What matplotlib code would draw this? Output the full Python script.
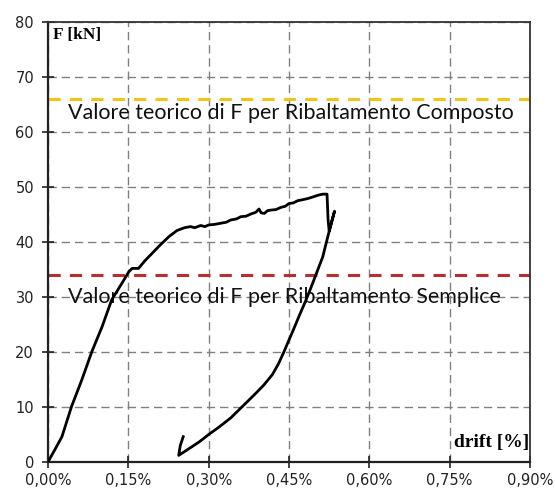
import numpy as np
import matplotlib
matplotlib.use('Agg')
import matplotlib.pyplot as plt
from matplotlib.ticker import FuncFormatter

# drift [%] and force [kN]
drift = [0.000, 0.012, 0.026, 0.044, 0.063, 0.082, 0.101, 0.119, 0.138, 0.151,
         0.157, 0.169, 0.181, 0.194, 0.210, 0.226, 0.241, 0.255, 0.266, 0.274,
         0.285, 0.293, 0.300, 0.311, 0.322, 0.333, 0.341, 0.352, 0.360, 0.370,
         0.379, 0.388, 0.394, 0.398, 0.404, 0.410, 0.416, 0.426, 0.435, 0.443,
         0.450, 0.458, 0.466, 0.476, 0.485, 0.495, 0.504, 0.513, 0.521, 0.523,
         0.525, 0.530, 0.535, 0.529, 0.5225, 0.513, 0.502, 0.493, 0.482, 0.470,
         0.458, 0.450, 0.440, 0.430, 0.419, 0.403, 0.385, 0.362, 0.341, 0.320,
         0.300, 0.283, 0.266, 0.255, 0.244, 0.247, 0.2525]
force = [0.0, 2.1, 4.6, 10.1, 14.9, 20.1, 24.6, 29.5, 32.5, 34.6,
         35.2, 35.2, 36.6, 37.9, 39.5, 41.0, 42.1, 42.6, 42.8, 42.6,
         43.0, 42.8, 43.1, 43.2, 43.4, 43.6, 44.0, 44.2, 44.6, 44.7,
         45.1, 45.4, 46.0, 45.3, 45.2, 45.7, 45.8, 45.9, 46.3, 46.5,
         47.0, 47.1, 47.5, 47.7, 47.9, 48.2, 48.5, 48.7, 48.7, 44.0,
         42.0, 43.8, 45.6, 43.4, 41.0, 37.3, 34.5, 32.2, 29.5, 26.8,
         24.0, 22.2, 19.9, 17.8, 15.9, 14.0, 12.2, 10.0, 8.0, 6.4,
         5.0, 3.7, 2.6, 1.9, 1.2, 3.0, 4.6]

F_composto = 66
F_semplice = 34
label_composto = 'Valore teorico di F per Ribaltamento Composto'
label_semplice = 'Valore teorico di F per Ribaltamento Semplice'

x_ticks = [0.0, 0.15, 0.30, 0.45, 0.60, 0.75, 0.90]
y_ticks = [0, 10, 20, 30, 40, 50, 60, 70, 80]

fig = plt.figure(figsize=(5.55, 4.92), dpi=100)
ax = fig.add_axes([48/555, 1 - 462/492, 482/555, 440/492])

ax.set_xlim(0, 0.90)
ax.set_ylim(0, 80)
ax.set_xticks(x_ticks)
ax.set_yticks(y_ticks)
ax.xaxis.set_major_formatter(FuncFormatter(lambda v, p: f'{v:.2f}%'.replace('.', ',')))
ax.grid(True, color='#808080', linewidth=1.0, linestyle=(0, (6, 3.5)))
ax.set_axisbelow(True)

ax.tick_params(direction='inout', length=8, width=1.2, colors='#222222',
               labelsize=10.5)
ax.tick_params(axis='y', pad=6)
ax.tick_params(axis='x', pad=4)
for side in ['left', 'bottom']:
    ax.spines[side].set_linewidth(1.6)
    ax.spines[side].set_color('#222222')
for side in ['top', 'right']:
    ax.spines[side].set_linewidth(1.3)
    ax.spines[side].set_color('#333333')

# theoretical values
ax.axhline(F_composto, color='#F2C418', linewidth=2.2, linestyle=(0, (4, 3)), zorder=2)
ax.axhline(F_semplice, color='#B8302E', linewidth=2.2, linestyle=(0, (4, 3)), zorder=2)
ax.text(0.037, 63.5, label_composto, fontsize=15.5, family='Lato',
        color='#111111', va='center', ha='left', zorder=4)
ax.text(0.037, 30.0, label_semplice, fontsize=15.5, family='Lato',
        color='#111111', va='center', ha='left', zorder=4)

# curve
ax.plot(drift, force, color='black', linewidth=2.0, zorder=5)

ax.text(0.009, 77.6, 'F [kN]', fontsize=12.5, family='Liberation Serif',
        fontweight='bold', va='center', ha='left')
ax.text(0.899, 3.6, 'drift [%]', fontsize=14, family='Liberation Serif',
        fontweight='bold', va='center', ha='right')

fig.savefig('out.png', dpi=100)
